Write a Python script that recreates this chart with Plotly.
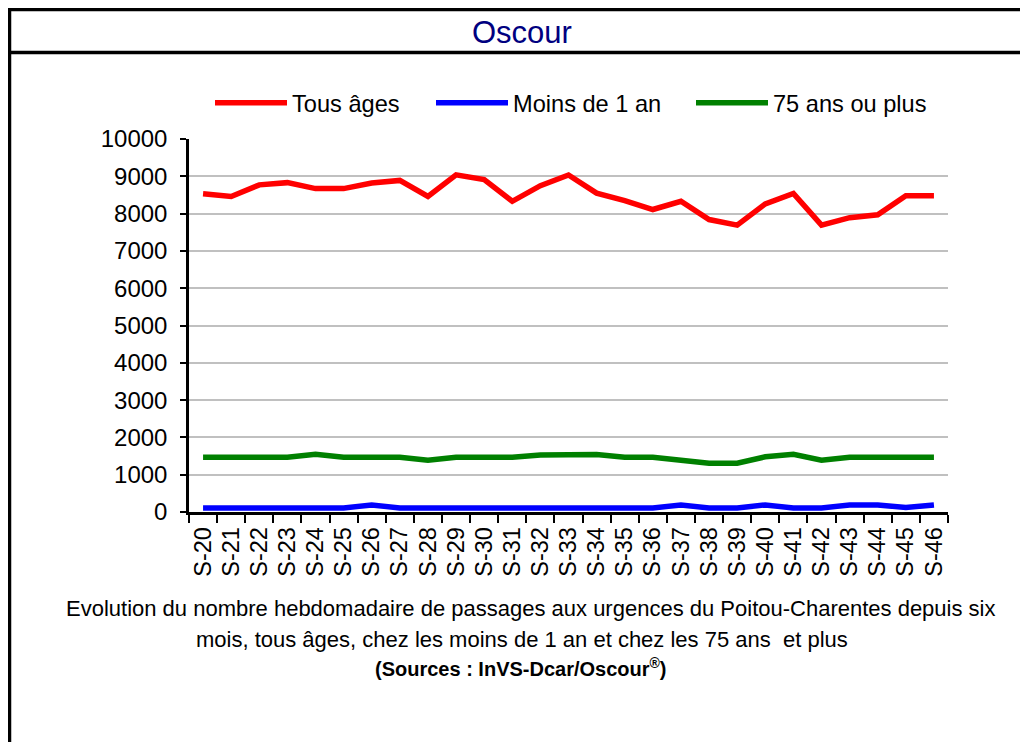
import plotly.graph_objects as go

weeks = [f"S-{i}" for i in range(20, 47)]
tous_ages = [8530, 8460, 8770, 8830, 8670, 8670, 8820, 8890, 8460, 9040, 8910, 8330, 8750, 9035,
             8550, 8350, 8110, 8330, 7840, 7690, 8260, 8540, 7690, 7890, 7970, 8480, 8480]
moins_1an = [110, 110, 110, 110, 110, 110, 190, 110, 110, 110, 110, 110, 110, 110,
             110, 110, 110, 190, 110, 110, 190, 110, 110, 190, 190, 120, 190]
plus_75 = [1470, 1470, 1470, 1470, 1550, 1470, 1470, 1470, 1390, 1470, 1470, 1470, 1530, 1530,
           1540, 1470, 1470, 1390, 1310, 1310, 1480, 1550, 1390, 1470, 1470, 1470, 1470]
yticks = list(range(0, 10001, 1000))
ytick_labels = [str(v) for v in yticks]

# page body has an 8px margin: figure coords = reference coords - 8
OFF = 8
W, H = 1020, 734
L, T = 189 - OFF, 139 - OFF
R = W - (948 - OFF)
B = H - (512 - OFF)
pw, ph = W - L - R, H - T - B

def px(x):
    return (x - OFF - L) / pw

def py(y):
    return (H - B - (y - OFF)) / ph

fig = go.Figure()
fig.add_trace(go.Scatter(x=weeks, y=tous_ages, mode="lines", name="Tous âges",
                         line=dict(color="#ff0000", width=5.5), legend="legend"))
fig.add_trace(go.Scatter(x=weeks, y=moins_1an, mode="lines", name="Moins de 1 an",
                         line=dict(color="#0000ff", width=5.5), legend="legend2"))
fig.add_trace(go.Scatter(x=weeks, y=plus_75, mode="lines", name="75 ans ou plus",
                         line=dict(color="#008000", width=5.5), legend="legend3"))

leg_common = dict(orientation="h", yanchor="middle", xanchor="left", font=dict(size=23.6),
                  itemwidth=72, bgcolor="rgba(0,0,0,0)")

fig.update_layout(
    width=W, height=H,
    margin=dict(l=L, r=R, t=T, b=B),
    paper_bgcolor="white", plot_bgcolor="white",
    font=dict(family="Liberation Sans, Arial, sans-serif", size=24, color="black"),
    showlegend=True,
    legend=dict(x=px(210), y=py(103), **leg_common),
    legend2=dict(x=px(431), y=py(103), **leg_common),
    legend3=dict(x=px(691), y=py(103), **leg_common),
    xaxis=dict(type="category", range=[-0.5, len(weeks) - 0.5], showline=True,
               linecolor="black", linewidth=2.5,
               ticks="outside", tickson="boundaries", ticklen=8, tickwidth=2, tickcolor="black",
               tickangle=-90, showgrid=False, tickfont=dict(size=23.5), ticklabelstandoff=3),
    yaxis=dict(range=[0, 10000], tickvals=yticks, ticktext=ytick_labels, showline=True,
               linecolor="black", linewidth=2.5,
               ticks="outside", ticklen=6, tickwidth=2, tickcolor="black",
               showgrid=True, gridcolor="#c0c0c0", gridwidth=2, zeroline=False,
               tickfont=dict(size=24), ticklabelstandoff=8),
)

cap_font = "Liberation Sans, Arial, sans-serif"
fig.add_annotation(x=px(522), y=py(32), xref="paper", yref="paper", text="Oscour", showarrow=False,
                   font=dict(family=cap_font, size=31, color="#000080"), xanchor="center", yanchor="middle")
fig.add_annotation(x=px(530), y=py(608), xref="paper", yref="paper",
                   text="Evolution du nombre hebdomadaire de passages aux urgences du Poitou-Charentes depuis six",
                   showarrow=False, font=dict(family=cap_font, size=22), xanchor="center", yanchor="middle")
fig.add_annotation(x=px(522), y=py(639), xref="paper", yref="paper",
                   text="mois, tous âges, chez les moins de 1 an et chez les 75 ans  et plus",
                   showarrow=False, font=dict(family=cap_font, size=22), xanchor="center", yanchor="middle")
fig.add_annotation(x=px(521), y=py(667), xref="paper", yref="paper",
                   text="<b>(Sources : InVS-Dcar/Oscour<sup>®</sup>)</b>",
                   showarrow=False, font=dict(family=cap_font, size=20), xanchor="center", yanchor="middle")

# frame
fig.add_shape(type="rect", xref="paper", yref="paper", x0=px(9.5), x1=px(1060), y0=py(9.5), y1=py(800),
              line=dict(color="black", width=3.5), layer="above")
fig.add_shape(type="line", xref="paper", yref="paper", x0=px(9.5), x1=px(1060), y0=py(52.5), y1=py(52.5),
              line=dict(color="black", width=3.5), layer="above")

fig.write_html("out.html")
